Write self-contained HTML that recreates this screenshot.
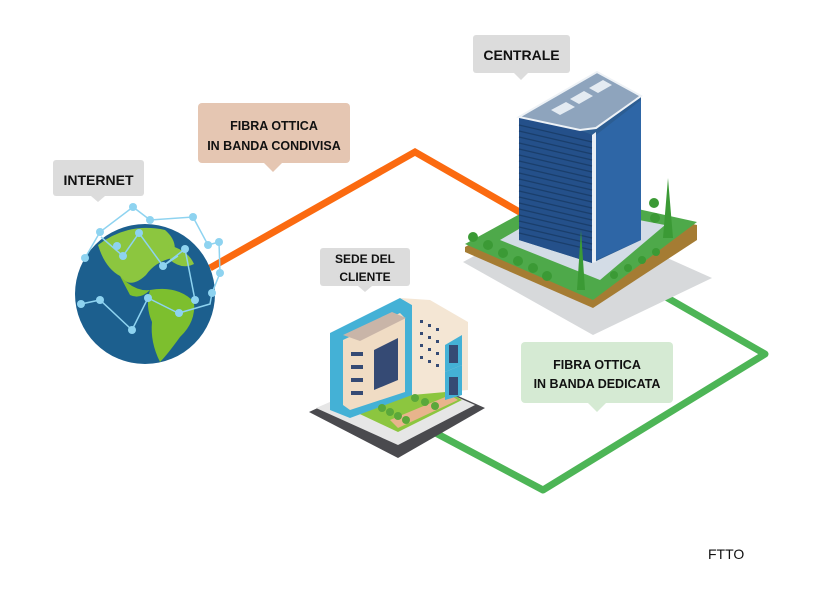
<!DOCTYPE html>
<html><head><meta charset="utf-8"><style>
html,body{margin:0;padding:0;background:#fff;}
svg{display:block;}
text{font-family:"Liberation Sans",sans-serif;font-weight:bold;fill:#111;}
</style></head><body>
<svg width="819" height="609" viewBox="0 0 819 609" xmlns="http://www.w3.org/2000/svg">
<rect width="819" height="609" fill="#fff"/>
<!-- connectors -->
<polyline points="210,268 415,152 530,218" fill="none" stroke="#fb6a10" stroke-width="7" stroke-linejoin="miter"/>
<polyline points="645,285 765,354 543,490 430,430" fill="none" stroke="#4db556" stroke-width="7" stroke-linejoin="round"/>

<!-- globe -->
<circle cx="145" cy="294" r="70" fill="#1c5f8e"/>
<path d="M98,245 Q128,222 165,230 Q180,243 172,258 Q155,262 146,275 Q130,290 120,276 Q105,268 98,245Z" fill="#8cc63f"/>
<path d="M120,276 Q135,292 150,290 Q140,300 130,295Z" fill="#7dbf2e"/>
<path d="M150,290 Q178,285 194,302 Q196,322 180,337 Q167,355 160,362 Q150,342 152,322 Q145,306 150,290Z" fill="#7dbf2e"/>
<path d="M168,245 Q188,250 194,264 Q182,270 170,260Z" fill="#8cc63f"/>
<g stroke="#8ed3f0" stroke-width="1.5" fill="none">
<polyline points="85,258 100,232 133,207 150,220 193,217 208,245 219,242 220,273 212,293 210,304 179,313"/>
<polyline points="101,237 123,256 139,233 163,266 185,249 195,300"/>
<polyline points="81,304 100,300 132,330 148,298 178,313"/>
<polyline points="163,266 178,256"/>
</g>
<g fill="#8ed3f0">
<circle cx="85" cy="258" r="4"/><circle cx="100" cy="232" r="4"/><circle cx="133" cy="207" r="4"/><circle cx="150" cy="220" r="4"/><circle cx="193" cy="217" r="4"/><circle cx="208" cy="245" r="4"/><circle cx="219" cy="242" r="4"/><circle cx="220" cy="273" r="4"/><circle cx="212" cy="293" r="4"/><circle cx="179" cy="313" r="4"/><circle cx="123" cy="256" r="4"/><circle cx="139" cy="233" r="4"/><circle cx="163" cy="266" r="4"/><circle cx="185" cy="249" r="4"/><circle cx="195" cy="300" r="4"/><circle cx="81" cy="304" r="4"/><circle cx="100" cy="300" r="4"/><circle cx="132" cy="330" r="4"/><circle cx="148" cy="298" r="4"/><circle cx="117" cy="246" r="4"/>
</g>

<!-- central building -->
<polygon points="463,262 560,210 712,278 593,335" fill="#d7d9db"/>
<polygon points="465,247 560,195 697,225 697,240 593,308 465,252" fill="#a57c33"/>
<polygon points="465,244 560,192 697,222 593,300" fill="#4ea94a"/>
<polygon points="500,240 560,205 665,225 600,280" fill="#d3dce6"/>
<polygon points="519,117 597,72 641,96 641,240 592,263 519,240" fill="#2c5d92"/>
<polygon points="519,117 580,130 592,135 592,263 519,240" fill="#24508a"/>
<polygon points="596,135 641,100 641,240 596,260" fill="#2e66a6"/>
<polygon points="519,117 597,72 641,96 596,128 580,130" fill="#8ea4bd" stroke="#eef2f6" stroke-width="2"/>
<g fill="#e4ebf2"><polygon points="551,110 566,102 575,107 560,115"/><polygon points="570,99 584,91 593,96 579,104"/><polygon points="589,88 603,80 612,85 598,93"/></g>
<polygon points="592,135 596,132 596,262 592,263" fill="#e8eef4"/>
<g stroke="#16375e" stroke-width="1.2" opacity=".7">
<line x1="519" y1="125" x2="592" y2="142"/><line x1="519" y1="131" x2="592" y2="148"/><line x1="519" y1="137" x2="592" y2="154"/><line x1="519" y1="143" x2="592" y2="160"/><line x1="519" y1="149" x2="592" y2="166"/><line x1="519" y1="155" x2="592" y2="172"/><line x1="519" y1="161" x2="592" y2="178"/><line x1="519" y1="167" x2="592" y2="184"/><line x1="519" y1="173" x2="592" y2="190"/><line x1="519" y1="179" x2="592" y2="196"/><line x1="519" y1="185" x2="592" y2="202"/><line x1="519" y1="191" x2="592" y2="208"/><line x1="519" y1="197" x2="592" y2="214"/><line x1="519" y1="203" x2="592" y2="220"/><line x1="519" y1="209" x2="592" y2="226"/><line x1="519" y1="215" x2="592" y2="232"/><line x1="519" y1="221" x2="592" y2="238"/><line x1="519" y1="227" x2="592" y2="244"/><line x1="519" y1="233" x2="592" y2="250"/>
</g>
<g fill="#3b9a35">
<circle cx="473" cy="237" r="5"/><circle cx="488" cy="245" r="5"/><circle cx="503" cy="253" r="5"/><circle cx="518" cy="261" r="5"/><circle cx="533" cy="268" r="5"/><circle cx="547" cy="276" r="5"/><circle cx="654" cy="203" r="5"/><circle cx="655" cy="218" r="5"/><circle cx="614" cy="275" r="4"/><circle cx="628" cy="268" r="4"/><circle cx="642" cy="260" r="4"/><circle cx="656" cy="252" r="4"/>
<polygon points="581,230 585,290 577,290"/><polygon points="668,178 673,238 663,238"/>
</g>

<!-- client building -->
<polygon points="309,412 400,370 485,408 398,458" fill="#4a4a4e"/>
<polygon points="316,408 400,372 475,405 398,445" fill="#e6e6e6"/>
<polygon points="330,400 400,365 462,400 398,432" fill="#8cc63f"/>
<polygon points="390,420 450,395 458,400 398,428" fill="#e8b48c"/>
<polygon points="330,333 400,298 412,305 412,395 350,418 330,410" fill="#44b1d6"/>
<polygon points="343,340 400,313 405,318 405,392 350,410 343,405" fill="#f0dcc4"/>
<polygon points="343,335 392,312 406,318 360,341" fill="#c9b5a8"/>
<polygon points="412,305 400,298 430,300 468,322 468,390 412,395" fill="#f4e6d4"/>
<polygon points="445,345 462,335 462,365 445,372" fill="#44b1d6"/>
<polygon points="445,372 462,365 462,395 445,400" fill="#44b1d6"/>
<g fill="#354a74">
<polygon points="374,350 398,338 398,380 374,390"/>
<rect x="351" y="365" width="12" height="4"/><rect x="351" y="378" width="12" height="4"/><rect x="351" y="391" width="12" height="4"/><rect x="351" y="352" width="12" height="4"/>
<rect x="449" y="345" width="9" height="18"/><rect x="449" y="377" width="9" height="18"/>
<rect x="420" y="320" width="3" height="3"/><rect x="428" y="324" width="3" height="3"/><rect x="436" y="328" width="3" height="3"/><rect x="420" y="332" width="3" height="3"/><rect x="428" y="336" width="3" height="3"/><rect x="436" y="340" width="3" height="3"/><rect x="420" y="344" width="3" height="3"/><rect x="428" y="348" width="3" height="3"/><rect x="436" y="352" width="3" height="3"/><rect x="420" y="356" width="3" height="3"/><rect x="428" y="360" width="3" height="3"/><rect x="436" y="364" width="3" height="3"/>
</g>
<g fill="#5aa83a"><circle cx="382" cy="408" r="4"/><circle cx="390" cy="412" r="4"/><circle cx="398" cy="416" r="4"/><circle cx="406" cy="420" r="4"/><circle cx="415" cy="398" r="4"/><circle cx="425" cy="402" r="4"/><circle cx="435" cy="406" r="4"/></g>

<!-- labels -->
<g>
<rect x="53" y="160" width="91" height="36" rx="3" fill="#dcdcdc"/><polygon points="91,196 105,196 98,202" fill="#dcdcdc"/>
<text x="98.5" y="185" font-size="14" text-anchor="middle">INTERNET</text>

<rect x="198" y="103" width="152" height="60" rx="4" fill="#e5c6b2"/><polygon points="264,163 282,163 273,172" fill="#e5c6b2"/>
<text x="274" y="130" font-size="12.5" text-anchor="middle">FIBRA OTTICA</text>
<text x="274" y="150" font-size="12.5" text-anchor="middle">IN BANDA CONDIVISA</text>

<rect x="473" y="35" width="97" height="38" rx="3" fill="#dcdcdc"/><polygon points="514,73 528,73 521,80" fill="#dcdcdc"/>
<text x="521.5" y="60" font-size="14" text-anchor="middle">CENTRALE</text>

<rect x="320" y="248" width="90" height="38" rx="3" fill="#dcdcdc"/><polygon points="358,286 372,286 365,292" fill="#dcdcdc"/>
<text x="365" y="263" font-size="12" text-anchor="middle">SEDE DEL</text>
<text x="365" y="281" font-size="12" text-anchor="middle">CLIENTE</text>

<rect x="521" y="342" width="152" height="61" rx="4" fill="#d5ead3"/><polygon points="588,403 606,403 597,412" fill="#d5ead3"/>
<text x="597" y="369" font-size="12.5" text-anchor="middle">FIBRA OTTICA</text>
<text x="597" y="388" font-size="12.5" text-anchor="middle">IN BANDA DEDICATA</text>

<text x="708" y="559" font-size="14" style="font-weight:normal">FTTO</text>
</g>
</svg>
</body></html>
